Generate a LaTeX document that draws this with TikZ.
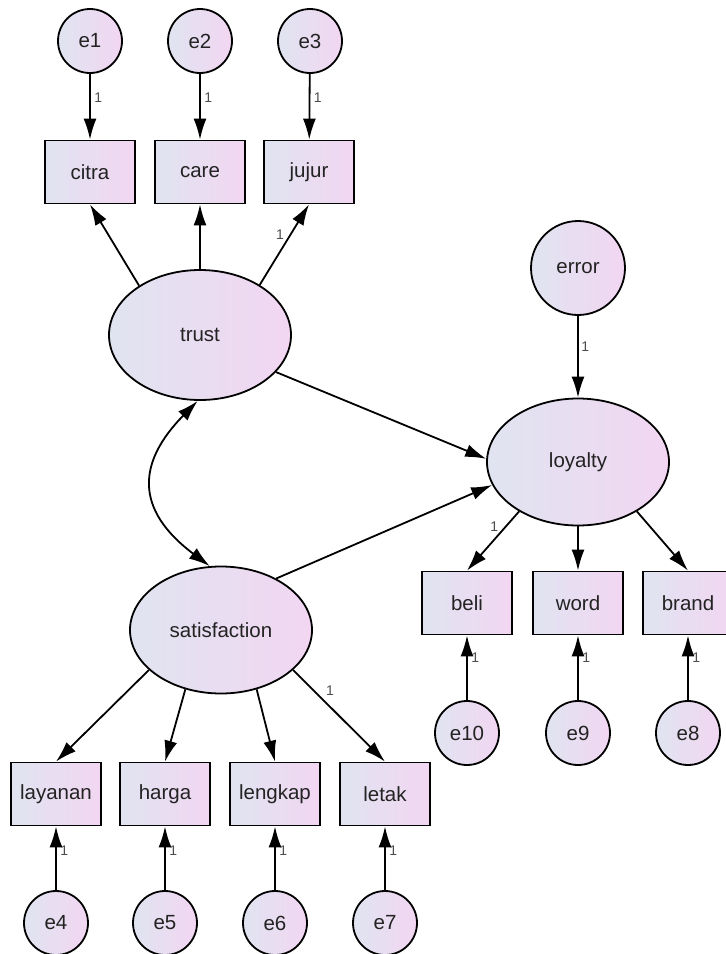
\documentclass[tikz,border=0pt]{standalone}
\usepackage{fontspec}
\setmainfont{Liberation Sans}
\usetikzlibrary{arrows.meta,shapes.geometric,calc}
\definecolor{cL}{RGB}{224,228,240}
\definecolor{cR}{RGB}{242,214,242}
\definecolor{txt}{RGB}{35,35,35}
\begin{document}
\begin{tikzpicture}[x=1pt,y=-1pt,
  every node/.style={font=\fontsize{20.5}{24}\selectfont, text=txt},
  grad/.style={left color=cL, right color=cR},
  obs/.style={draw, line width=1.8pt, grad, minimum width=90pt, minimum height=63pt, inner sep=0pt},
  err/.style={draw, circle, line width=1.8pt, grad, minimum size=64pt, inner sep=0pt},
  lat/.style={draw, ellipse, line width=1.8pt, grad, minimum width=182pt, minimum height=127pt, inner sep=0pt},
  arr/.style={line width=1.8pt, -{Latex[length=21pt,width=13pt]}},
  dbl/.style={line width=1.8pt, {Latex[length=21pt,width=13pt]}-{Latex[length=21pt,width=13pt]}},
  lbl/.style={font=\fontsize{14}{15}\selectfont, text=black!70, inner sep=1.5pt}
]
\useasboundingbox (0,0) rectangle (726,954);

% trust block
\node[err] (e1) at (90,41) {e1};
\node[err] (e2) at (200,41) {e2};
\node[err] (e3) at (310,41) {e3};
\node[obs] (citra) at (90,172) {citra};
\node[obs] (care) at (200,172) {care};
\node[obs] (jujur) at (309,172) {jujur};
\node[lat, minimum height=130pt] (trust) at (200,335) {trust};

% loyalty block
\node[err, minimum size=94pt] (error) at (578,268) {error};
\node[lat] (loyalty) at (578,462) {loyalty};
\node[obs] (beli) at (467,603) {beli};
\node[obs] (word) at (578,603) {word};
\node[obs] (brand) at (688,603) {brand};
\node[err] (e10) at (467,733) {e10};
\node[err] (e9) at (578,733) {e9};
\node[err] (e8) at (688,733) {e8};

% satisfaction block
\node[lat] (sat) at (221,630) {satisfaction};
\node[obs] (layanan) at (56,794) {layanan};
\node[obs] (harga) at (165,794) {harga};
\node[obs] (lengkap) at (275,794) {lengkap};
\node[obs] (letak) at (385,794) {letak};
\node[err] (e4) at (56,923) {e4};
\node[err] (e5) at (165,923) {e5};
\node[err] (e6) at (275,923) {e6};
\node[err] (e7) at (385,923) {e7};

% error terms -> indicators (top)
\draw[arr] (e1) -- node[lbl, right, pos=0.36, xshift=2pt] (l1) {1} (citra);
\draw[arr] (e2) -- node[lbl, right, pos=0.36, xshift=2pt] (l2) {1} (care);
\draw[arr] (e3) -- node[lbl, right, pos=0.36, xshift=2pt] (l3) {1} (jujur);

% trust -> indicators
\draw[arr] (trust.141) -- (citra.south);
\draw[arr] (trust.90) -- (care.south);
\draw[arr] (trust.40) -- node[lbl, left, pos=0.62, xshift=-4pt] (l4) {1} (jujur.south);

% structural paths
\draw[arr] (trust.-26) -- (loyalty.178);
\draw[arr] (sat.43) -- (loyalty.195);
\draw[arr] (error) -- node[lbl, right, pos=0.38, xshift=1pt] (l5) {1} (loyalty);

% covariance
\coordinate (c1) at ($(trust.268)+(-60,61)$);
\coordinate (c2) at ($(sat.100)+(-76,-57)$);
\draw[dbl] (trust.268) .. controls (c1) and (c2) .. (sat.100);

% loyalty -> indicators
\draw[arr] (loyalty.220) -- node[lbl, left, pos=0.26, xshift=-5pt] (l6) {1} (beli.north);
\draw[arr] (loyalty.south) -- (word.north);
\draw[arr] (loyalty.-40) -- (brand.north);

\draw[arr] (e10) -- node[lbl, right, pos=0.65, xshift=2pt] (l7) {1} (beli);
\draw[arr] (e9) -- node[lbl, right, pos=0.65, xshift=2pt] (l8) {1} (word);
\draw[arr] (e8) -- node[lbl, right, pos=0.65, xshift=2pt] (l9) {1} (brand);

% satisfaction -> indicators
\draw[arr] (sat.209) -- (layanan.north);
\draw[arr] (sat.239) -- (harga.north);
\draw[arr] (sat.-59) -- (lengkap.north);
\draw[arr] (sat.-29) -- node[lbl, above right, pos=0.3, xshift=3pt] (l10) {1} (letak.north);

\draw[arr] (e4) -- node[lbl, right, pos=0.62, xshift=2pt] (l11) {1} (layanan);
\draw[arr] (e5) -- node[lbl, right, pos=0.62, xshift=2pt] (l12) {1} (harga);
\draw[arr] (e6) -- node[lbl, right, pos=0.62, xshift=2pt] (l13) {1} (lengkap);
\draw[arr] (e7) -- node[lbl, right, pos=0.62, xshift=2pt] (l14) {1} (letak);
\end{tikzpicture}
\end{document}
